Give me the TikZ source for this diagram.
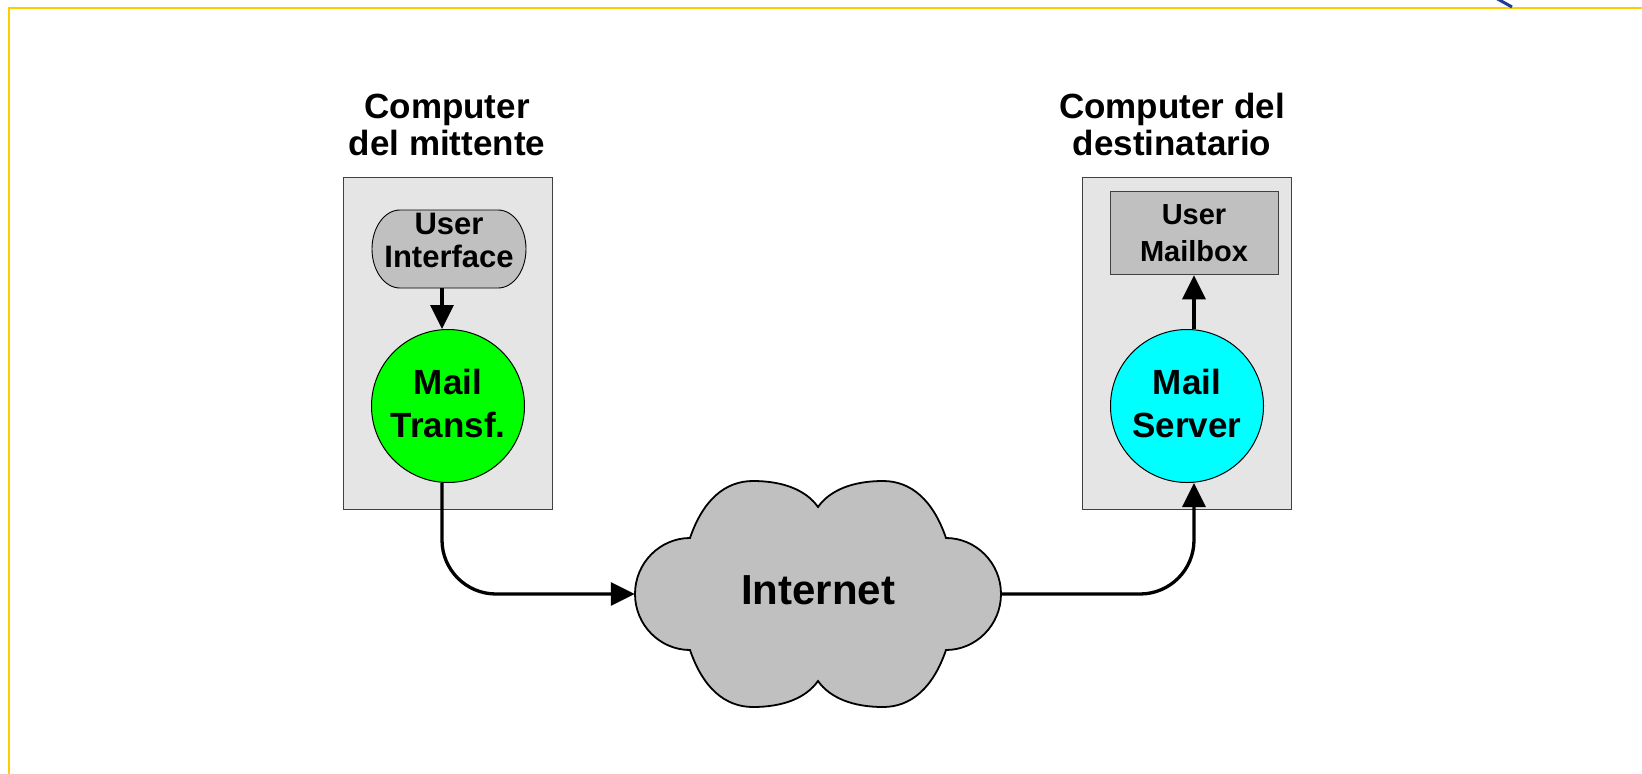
\documentclass[tikz,border=0pt]{standalone}
\usepackage{fontspec}
\setmainfont{Liberation Sans}
\usetikzlibrary{arrows.meta}

\definecolor{pcbg}{HTML}{E5E5E5}
\definecolor{pcedge}{HTML}{404040}
\definecolor{silver}{HTML}{C0C0C0}
\definecolor{mtgreen}{HTML}{00FF00}
\definecolor{mscyan}{HTML}{00FFFF}
\definecolor{frameyellow}{HTML}{FFCC00}
\definecolor{cornerblue}{HTML}{1F3C96}

\begin{document}
\begin{tikzpicture}[x=1pt,y=-1pt,
  pcbox/.style={draw=pcedge, fill=pcbg, line width=1pt, inner sep=0pt},
  title/.style={align=center, inner sep=0pt,
    font=\bfseries\fontsize{35}{37}\selectfont},
  proc/.style={circle, draw=black, line width=1pt, inner sep=0pt,
    minimum size=153pt, align=center,
    font=\bfseries\fontsize{35}{43}\selectfont},
  smallbox/.style={align=center, inner sep=0pt},
  flow/.style={line width=3.3pt, -{Triangle[length=24pt,width=23pt]}},
  softturn/.style={rounded corners=54pt}
]
% page and frame
\useasboundingbox (0,0) rectangle (1642,774);
\fill[white] (0,0) rectangle (1642,774);
\draw[frameyellow, line width=2.2pt] (9.3,774) -- (9.3,7.7) -- (1642,7.7);
\draw[cornerblue, line width=3pt] (1494,-3) -- (1512,7);

% the two computers
\node[pcbox, minimum width=209.4pt, minimum height=332pt] (pcl) at (448,343.3) {};
\node[pcbox, minimum width=209.4pt, minimum height=332pt] (pcr) at (1186.7,343.3) {};

\node[title] (tl) at (447,125) {Computer\\del mittente};
\node[title] (tr) at (1172,124.5) {Computer del\\destinatario};

% user interface (rounded terminator)
\draw[fill=silver, draw=black, line width=0.9pt]
  (400,210) -- (498,210)
  arc[start angle=-90, end angle=90, x radius=28, y radius=39]
  -- (400,288)
  arc[start angle=90, end angle=270, x radius=28, y radius=39] -- cycle;
\node[smallbox, minimum width=154pt, minimum height=78pt,
      font=\bfseries\fontsize{31}{33.3}\selectfont] (ui) at (449,249)
  {User\\Interface\rule[-18pt]{0pt}{18pt}};

% mailbox
\node[smallbox, draw=pcedge, fill=silver, line width=1pt,
      minimum width=168pt, minimum height=83pt,
      font=\bfseries\fontsize{29}{36.7}\selectfont] (mb) at (1194,233.3)
  {User\\Mailbox};

% mail agents
\node[proc, fill=mtgreen] (mt) at (448,406) {Mail\\Transf.\rule[-5pt]{0pt}{5pt}};
\node[proc, fill=mscyan] (ms) at (1187,406) {Mail\\Server\rule[-5pt]{0pt}{5pt}};

% internet cloud
\begin{scope}[shift={(818,594)}]
\draw[fill=silver, draw=black, line width=1.8pt]
  (-128,-56) .. controls (-115,-94) and (-93,-113) .. (-65,-113)
  .. controls (-35,-113) and (-12,-104) .. (0,-87)
  .. controls (12,-104) and (35,-113) .. (65,-113)
  .. controls (93,-113) and (115,-94) .. (128,-56)
  .. controls (158,-56) and (183,-31) .. (183,0)
  .. controls (183,31) and (158,56) .. (128,56)
  .. controls (115,94) and (93,113) .. (65,113)
  .. controls (35,113) and (12,104) .. (0,87)
  .. controls (-12,104) and (-35,113) .. (-65,113)
  .. controls (-93,113) and (-115,94) .. (-128,56)
  .. controls (-158,56) and (-183,31) .. (-183,0)
  .. controls (-183,-31) and (-158,-56) .. (-128,-56) -- cycle;
\end{scope}
\node[inner sep=0pt, minimum width=366pt, minimum height=227pt,
      font=\bfseries\fontsize{42}{48}\selectfont] (net) at (818,594)
  {Internet\rule[-8pt]{0pt}{8pt}};

% message path
\draw[flow] ([xshift=-7pt]ui.south) -- ([xshift=-6pt]mt.north);
\draw[flow, softturn] ([xshift=-6pt]mt.south) |- (net.west);
\draw[flow, softturn] (net.east) -| ([xshift=7pt]ms.south);
\draw[flow] ([xshift=7pt]ms.north) -- (mb.south);
\end{tikzpicture}
\end{document}
